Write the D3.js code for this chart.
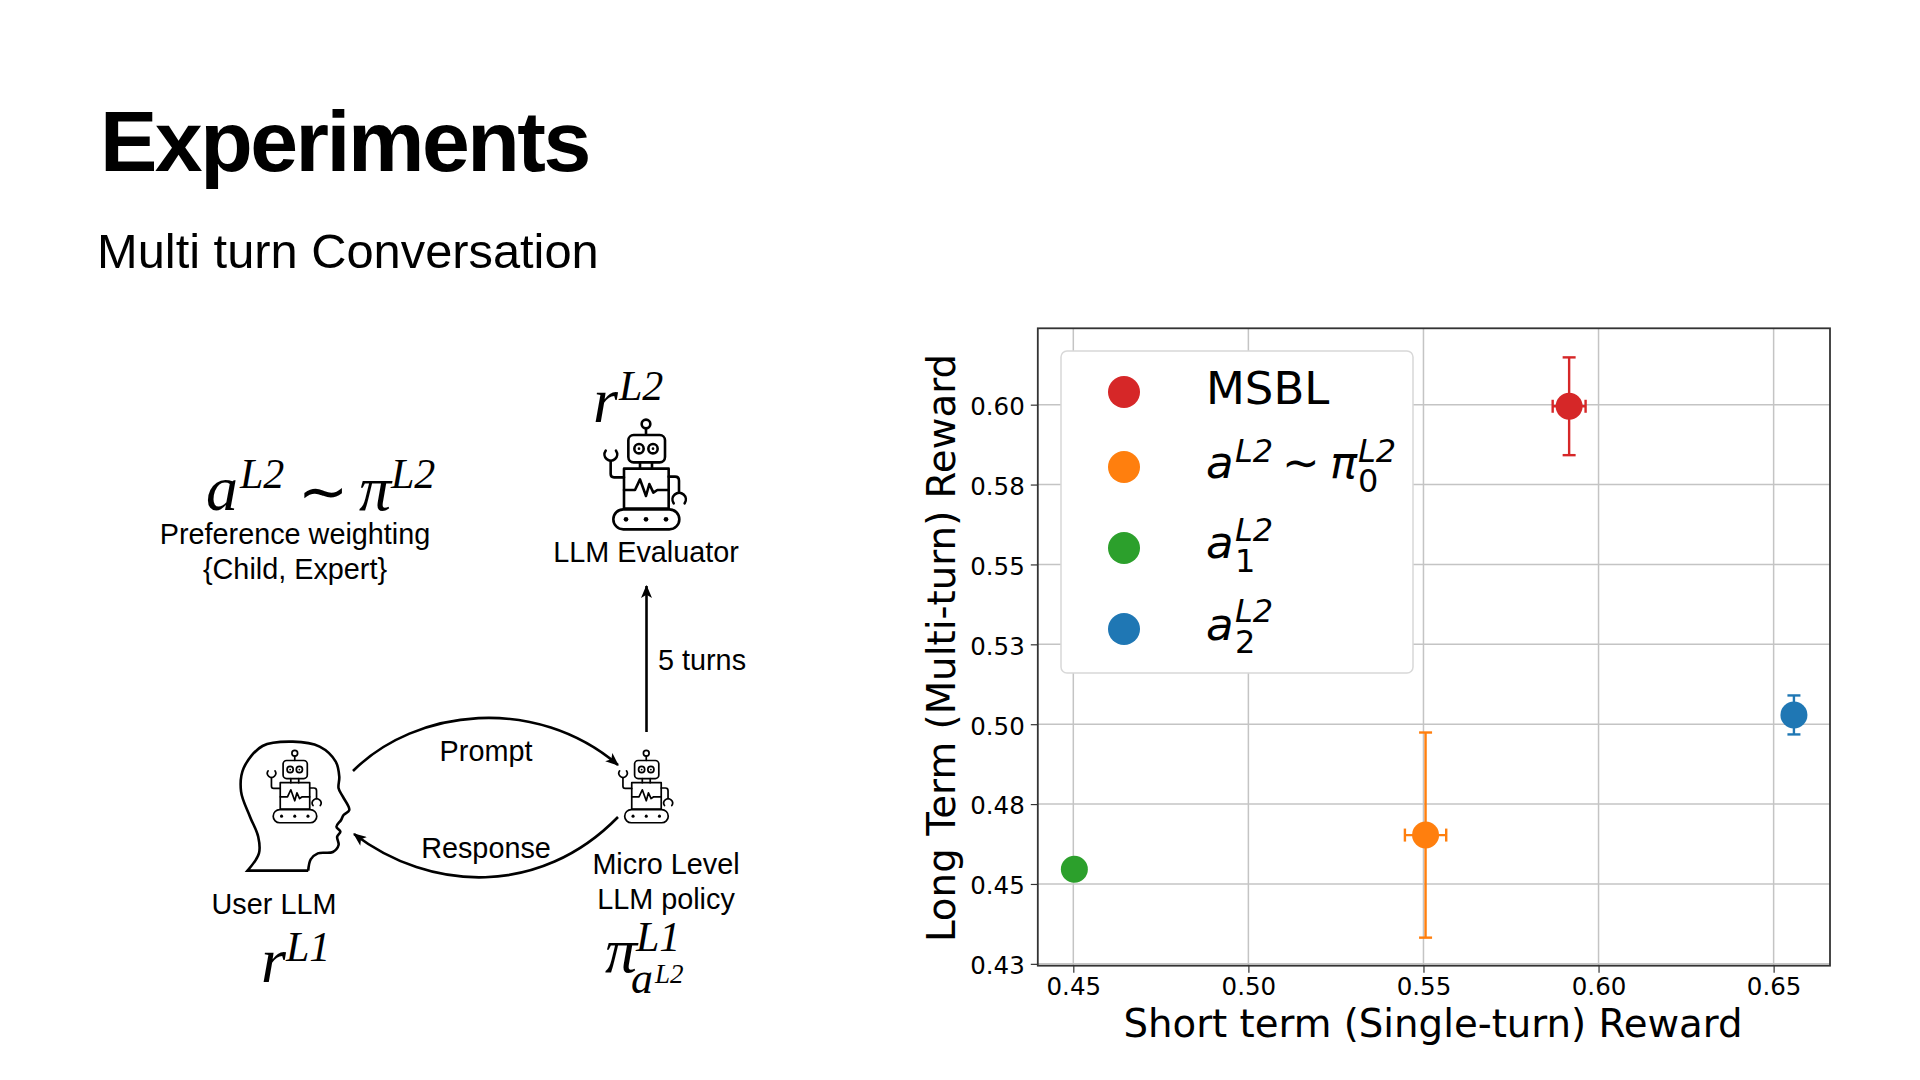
<!DOCTYPE html>
<html><head><meta charset="utf-8">
<script src="https://cdnjs.cloudflare.com/ajax/libs/d3/7.8.5/d3.min.js"></script>
<style>html,body{margin:0;padding:0;background:#fff}svg{display:block}</style>
</head><body><svg id="c" width="1920" height="1080"></svg>
<script>
// ---- chart data ----
const seriesNames = ["MSBL","orange","green","blue"];
const xValues = [0.5916,0.5506,0.4503,0.6558];
const yValues = [0.5995,0.4653,0.4546,0.5029];
const xErrors = [0.0047,0.0059,0,0.002];
const yErrors = [0.0153,0.0321,0,0.0061];
const colors = ["#d62728","#ff7f0e","#2ca02c","#1f77b4"];
const xTicks = [0.45,0.50,0.55,0.60,0.65];
const xTickLabels = ["0.45","0.50","0.55","0.60","0.65"];
const yTicks = [0.425,0.45,0.475,0.50,0.525,0.55,0.575,0.60];
const yTickLabels = ["0.43","0.45","0.48","0.50","0.53","0.55","0.58","0.60"];
const xTitle = "Short term (Single-turn) Reward";
const yTitle = "Long Term (Multi-turn) Reward";

const svg = d3.select("#c");
const SANS = "'Liberation Sans',Arial,sans-serif", SERIF="'Liberation Serif',serif", DJ="'DejaVu Sans',sans-serif";
function T(x,y,s,o={}){
  return svg.append("text").attr("x",x).attr("y",y).text(s)
    .attr("font-family",o.f||SANS).attr("font-size",o.s||28.8).attr("font-style",o.i?"italic":"normal")
    .attr("font-weight",o.b?"bold":"normal").attr("text-anchor",o.a||"start").attr("fill","#000")
    .attr("letter-spacing",o.ls||0);
}
T(100,171,"Experiments",{s:86,b:1,ls:-2.5});
T(97,268,"Multi turn Conversation",{s:48.8});

// ---- left diagram ----
T(295,544,"Preference weighting",{a:"middle"});
T(295,579,"{Child, Expert}",{a:"middle"});
T(646,562,"LLM Evaluator",{a:"middle"});
T(658,670,"5 turns");
T(486,761,"Prompt",{a:"middle"});
T(486,858,"Response",{a:"middle"});
T(666,874,"Micro Level",{a:"middle"});
T(666,909,"LLM policy",{a:"middle"});
T(274,914,"User LLM",{a:"middle"});
const M={f:SERIF,i:1,s:64}, S={f:SERIF,i:1,s:42};
T(206,510,"a",M);T(240,488,"L2",S);
T(298,512,"∼",{f:SERIF,s:60});
T(359,510,"π",M);T(391,488,"L2",S);
T(593,422,"r",M);T(619,400,"L2",S);
T(261,982,"r",M);T(286,961,"L1",S);
T(605,972,"π",M);T(636,951,"L1",S);
T(631,993,"a",{f:SERIF,i:1,s:44});T(655,983,"L2",{f:SERIF,i:1,s:27});

const defs=svg.append("defs");
defs.append("marker").attr("id","ah").attr("viewBox","0 0 12 10").attr("refX",11).attr("refY",5)
 .attr("markerWidth",14).attr("markerHeight",11).attr("markerUnits","userSpaceOnUse").attr("orient","auto")
 .append("path").attr("d","M0,0 L12,5 L0,10 L3,5 Z").attr("fill","#000");
function arrow(d){svg.append("path").attr("d",d).attr("fill","none").attr("stroke","#000").attr("stroke-width",2.6).attr("marker-end","url(#ah)");}
arrow("M646.5,732 L646.5,586");
arrow("M353,771 C416,708 536,695 618,765");
arrow("M618,817 C540,897 430,892 354,834");

function robot(tx,ty,k,sw){
  const g=svg.append("g").attr("transform",`translate(${tx},${ty}) scale(${k})`)
    .attr("fill","none").attr("stroke","#000").attr("stroke-width",sw/k).attr("stroke-linejoin","round").attr("stroke-linecap","round");
  g.append("circle").attr("cx",258).attr("cy",192).attr("r",13);
  g.append("path").attr("d","M258,205V224M240,307V326M276,307V326");
  g.append("rect").attr("x",205).attr("y",225).attr("width",110).attr("height",82).attr("rx",16);
  [237,279].forEach(x=>{g.append("circle").attr("cx",x).attr("cy",266).attr("r",14);
    g.append("circle").attr("cx",x).attr("cy",266).attr("r",4).attr("fill","#000").attr("stroke","none");});
  g.append("rect").attr("x",192).attr("y",326).attr("width",134).attr("height",120);
  g.append("path").attr("d","M192,390H225L240,358L258,408L268,372L280,398L292,390H326");
  g.append("path").attr("d","M192,352H162Q152,352 152,342V303");
  g.append("path").attr("d","M137,272A19,19 0 1 0 168,272");
  g.append("path").attr("d","M326,350H345Q357,350 357,362V398");
  g.append("path").attr("d","M341,430A20,20 0 1 1 374,430");
  g.append("rect").attr("x",160).attr("y",448).attr("width",198).attr("height",60).attr("rx",30);
  [198,258,318].forEach(x=>g.append("circle").attr("cx",x).attr("cy",478).attr("r",7).attr("fill","#000").attr("stroke","none"));
}
robot(560,360,1/3,2.6);
robot(589.5,711,0.22,1.7);
robot(238,711,0.22,1.7);

const headPts=[[303,452],[310,418],[330,400],[372,396],[388,375],[384,350],[393,335],[382,320],[395,300],[402,285],[418,270],[400,230],[388,205],[390,170],[380,125],[335,80],[260,65],[175,78],[122,145],[115,215],[140,290],[163,350],[165,400],[133,452]]
  .map(p=>[200+p[0]/2.8,720+p[1]/3]);
svg.append("path").attr("d",d3.line().curve(d3.curveCatmullRom.alpha(0.5))(headPts)+`L${headPts[0][0]},${headPts[0][1]}`)
  .attr("fill","none").attr("stroke","#000").attr("stroke-width",2.6).attr("stroke-linejoin","miter");

// ---- scatter ----
const L=1037.8,R=1830,TOP=328.3,B=965.7;
const x=d3.scaleLinear().domain([0.43986,0.6661]).range([L,R]);
const y=d3.scaleLinear().domain([0.42442,0.6239]).range([B,TOP]);
const grid="#c4c4c4";
const gx=svg.append("g").attr("transform",`translate(0,${B})`)
  .call(d3.axisBottom(x).tickValues(xTicks).tickFormat((d,i)=>xTickLabels[i]).tickSize(7).tickPadding(5));
const gy=svg.append("g").attr("transform",`translate(${L},0)`)
  .call(d3.axisLeft(y).tickValues(yTicks).tickFormat((d,i)=>yTickLabels[i]).tickSize(7).tickPadding(6));
[gx,gy].forEach(g=>{g.select(".domain").remove();
  g.selectAll("text").attr("font-family",DJ).attr("font-size",24.5).attr("fill","#000");
  g.selectAll("line").attr("stroke","#333").attr("stroke-width",1.2);});
gy.selectAll("text").attr("dy","0.4em");
svg.append("g").selectAll("line").data(xTicks).join("line")
  .attr("x1",d=>x(d)).attr("x2",d=>x(d)).attr("y1",TOP).attr("y2",B).attr("stroke",grid).attr("stroke-width",1.5);
svg.append("g").selectAll("line").data(yTicks).join("line")
  .attr("y1",d=>y(d)).attr("y2",d=>y(d)).attr("x1",L).attr("x2",R).attr("stroke",grid).attr("stroke-width",1.5);
svg.append("rect").attr("x",L).attr("y",TOP).attr("width",R-L).attr("height",B-TOP)
  .attr("fill","none").attr("stroke","#333").attr("stroke-width",1.8);

const idx=d3.range(seriesNames.length);
const pts=svg.append("g").selectAll("g").data(idx).join("g").attr("stroke",i=>colors[i]).attr("stroke-width",2.4);
const cap=6.5;
pts.filter(i=>yErrors[i]>0).each(function(i){
  const g=d3.select(this),cx=x(xValues[i]),t=y(yValues[i]+yErrors[i]),b=y(yValues[i]-yErrors[i]);
  g.append("line").attr("x1",cx).attr("x2",cx).attr("y1",t).attr("y2",b);
  [t,b].forEach(v=>g.append("line").attr("x1",cx-cap).attr("x2",cx+cap).attr("y1",v).attr("y2",v));
  const cy=y(yValues[i]),l=x(xValues[i]-xErrors[i]),r=x(xValues[i]+xErrors[i]);
  g.append("line").attr("x1",l).attr("x2",r).attr("y1",cy).attr("y2",cy);
  [l,r].forEach(v=>g.append("line").attr("x1",v).attr("x2",v).attr("y1",cy-cap).attr("y2",cy+cap));
});
pts.append("circle").attr("cx",i=>x(xValues[i])).attr("cy",i=>y(yValues[i])).attr("r",13.5).attr("fill",i=>colors[i]).attr("stroke","none");

// titles
T(1433,1037,xTitle,{f:DJ,s:38.7,a:"middle"});
T(0,0,yTitle,{f:DJ,s:38.8,a:"middle"}).attr("transform","translate(955,648) rotate(-90)");

// legend
svg.append("rect").attr("x",1061).attr("y",351).attr("width",352).attr("height",322).attr("rx",6)
  .attr("fill","#fff").attr("stroke","#d8d8d8").attr("stroke-width",1.5);
const legendY=[392,467,548,629];
idx.forEach(i=>svg.append("circle").attr("cx",1124).attr("cy",legendY[i]).attr("r",16).attr("fill",colors[i]));
const O={f:DJ,i:1,s:45}, U={f:DJ,i:1,s:32}, D={f:DJ,s:32};
T(1206,404,"MSBL",{f:DJ,s:45});
T(1206,478,"a",O);T(1235,462,"L2",U);T(1282,478,"∼",{f:DJ,s:45});T(1330,478,"π",O);T(1358,462,"L2",U);T(1358,492,"0",D);
T(1206,558,"a",O);T(1235,541,"L2",U);T(1235,572,"1",D);
T(1206,640,"a",O);T(1235,622,"L2",U);T(1235,653,"2",D);
</script></body></html>
